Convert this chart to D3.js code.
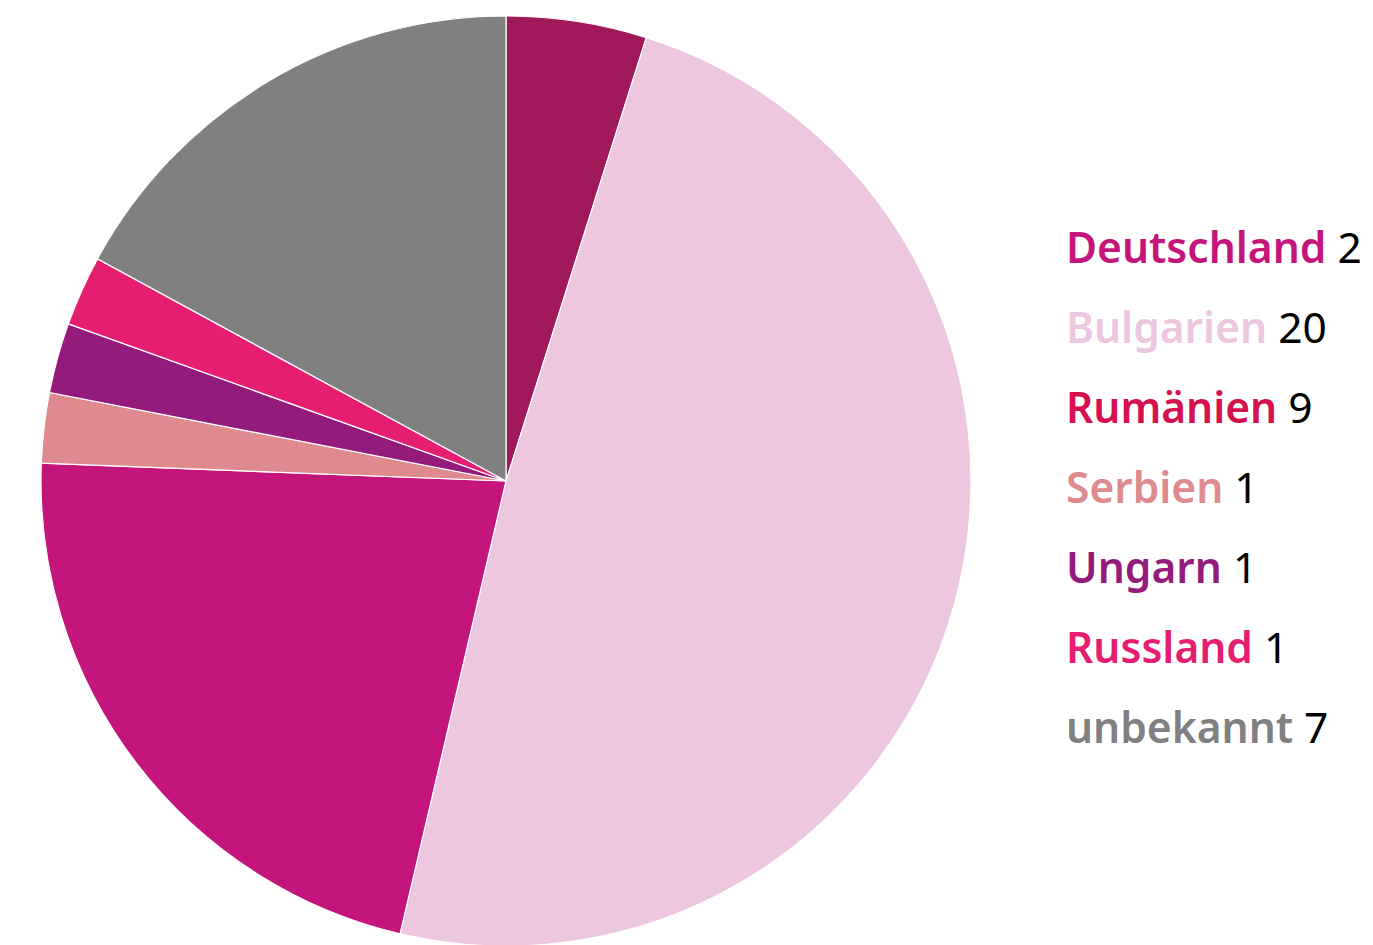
<!DOCTYPE html>
<html><head><meta charset="utf-8">
<script src="https://cdn.jsdelivr.net/npm/d3@7"></script>
<style>body{margin:0;background:#fff}svg{display:block}</style>
</head><body>
<script>
const categories = ["Deutschland","Bulgarien","Rumänien","Serbien","Ungarn","Russland","unbekannt"];
const values = [2,20,9,1,1,1,7];
const sliceColors = ["#a0195a","#edc6df","#c4157d","#de8a8e","#941b7c","#e61e72","#808080"];
const labelColors = ["#c4157d","#edc6df","#d5104f","#de8a8e","#941b7c","#e61e72","#808080"];

const W=1373,H=945, cx=506, cy=481, r=465;
const svg=d3.select("body").append("svg").attr("width",W).attr("height",H);
const data=categories.map((c,i)=>({c,v:values[i],i}));
const pie=d3.pie().value(d=>d.v).sort(null);
const arc=d3.arc().innerRadius(0).outerRadius(r);
svg.append("g").attr("transform",`translate(${cx},${cy})`)
  .selectAll("path").data(pie(data)).join("path")
  .attr("d",arc).attr("fill",d=>sliceColors[d.data.i])
  .attr("stroke","#fff").attr("stroke-width",1.2);

const y=d3.scaleBand().domain(categories).range([222,782]);
const lg=svg.append("g").attr("font-family","'Noto Sans', 'Open Sans', sans-serif").attr("font-size",42.5);
data.forEach(d=>{
  const t=lg.append("text").attr("x",1066).attr("y",y(d.c)+41);
  t.append("tspan").attr("font-weight",600).attr("fill",labelColors[d.i]).text(d.c);
  t.append("tspan").attr("fill","#000").text(" "+d.v);
});
</script>
</body></html>
